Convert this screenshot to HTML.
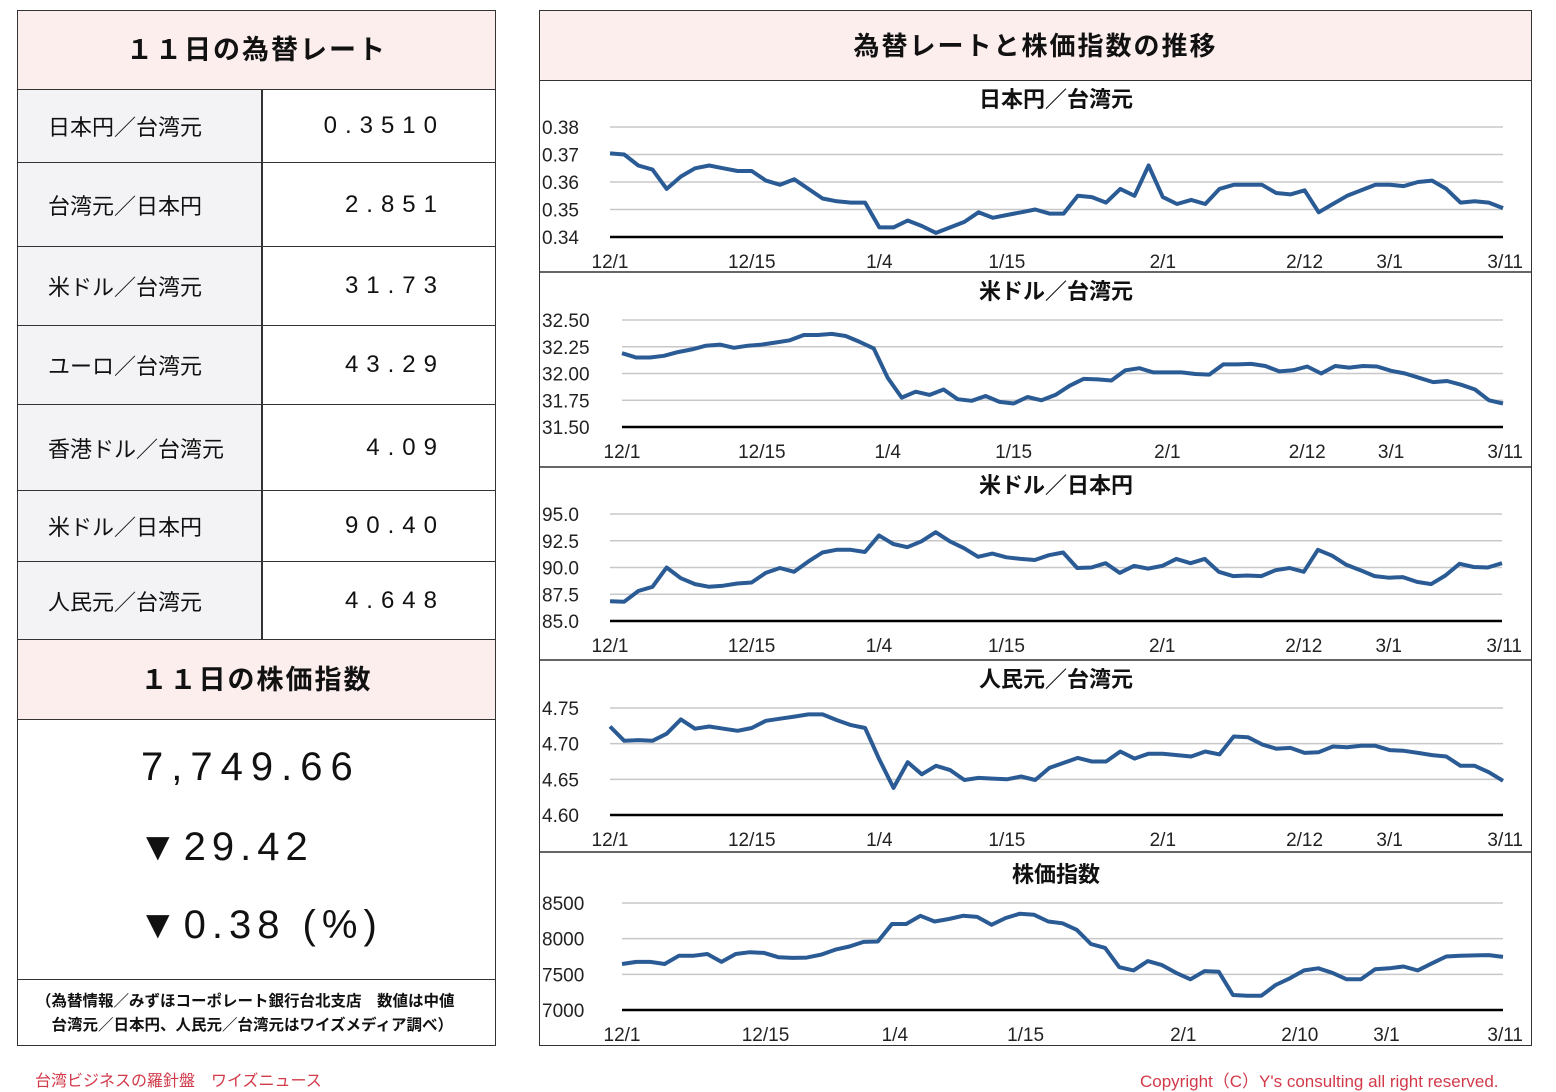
<!DOCTYPE html>
<html><head><meta charset="utf-8">
<style>
body{margin:0;width:1556px;height:1092px;background:#fff;font-family:"Liberation Sans","Noto Sans CJK JP",sans-serif;position:relative;overflow:hidden;color:#111}
.abs{position:absolute;box-sizing:border-box}
.hdr{background:#fdeeee;font-weight:bold;font-size:27px;text-align:center;letter-spacing:2px}
.lab{background:#f3f3f5;font-size:22px;padding-left:30px;display:flex;align-items:center;border-right:2px solid #333}
.val{font-size:24px;letter-spacing:8px;text-align:right;padding-right:50px;display:flex;align-items:center;justify-content:flex-end}
.row{border-bottom:1px solid #333}
.big{font-size:40px;letter-spacing:6px;left:138px}
</style></head><body>
<div class="abs" style="left:17px;top:10px;width:479px;height:1036px;border:1px solid #333"></div>
<div class="abs hdr row" style="left:18px;top:11px;width:477px;height:79px;line-height:79px">１１日の為替レート</div>

<div class="abs lab row" style="left:18px;top:90px;width:245px;height:73px">日本円／台湾元</div>
<div class="abs val row" style="left:263px;top:90px;width:232px;height:73px">0.3510</div>
<div class="abs lab row" style="left:18px;top:163px;width:245px;height:84px">台湾元／日本円</div>
<div class="abs val row" style="left:263px;top:163px;width:232px;height:84px">2.851</div>
<div class="abs lab row" style="left:18px;top:247px;width:245px;height:79px">米ドル／台湾元</div>
<div class="abs val row" style="left:263px;top:247px;width:232px;height:79px">31.73</div>
<div class="abs lab row" style="left:18px;top:326px;width:245px;height:79px">ユーロ／台湾元</div>
<div class="abs val row" style="left:263px;top:326px;width:232px;height:79px">43.29</div>
<div class="abs lab row" style="left:18px;top:405px;width:245px;height:86px">香港ドル／台湾元</div>
<div class="abs val row" style="left:263px;top:405px;width:232px;height:86px">4.09</div>
<div class="abs lab row" style="left:18px;top:491px;width:245px;height:71px">米ドル／日本円</div>
<div class="abs val row" style="left:263px;top:491px;width:232px;height:71px">90.40</div>
<div class="abs lab row" style="left:18px;top:562px;width:245px;height:78px">人民元／台湾元</div>
<div class="abs val row" style="left:263px;top:562px;width:232px;height:78px">4.648</div>

<div class="abs hdr row" style="left:18px;top:640px;width:477px;height:80px;line-height:80px">１１日の株価指数</div>
<div class="abs big" style="top:745px;left:141px;letter-spacing:8px">7,749.66</div>
<div class="abs big" style="top:825px">▼29.42</div>
<div class="abs big" style="top:903px">▼0.38 (%)</div>
<div class="abs" style="left:18px;top:979px;width:477px;height:66px;border-top:1px solid #333;font-size:15.5px;font-weight:bold;padding:10px 0 0 18px;line-height:24px">（為替情報／みずほコーポレート銀行台北支店　数値は中値<br>　台湾元／日本円、人民元／台湾元はワイズメディア調べ）</div>
<div class="abs" style="left:35px;top:1067px;font-size:16px;color:#d23a4a">台湾ビジネスの羅針盤　ワイズニュース</div>
<div class="abs" style="left:1140px;top:1067px;font-size:17px;color:#d23a4a">Copyright（C）Y's consulting all right reserved.</div>

<div class="abs" style="left:539px;top:10px;width:993px;height:1036px;border:1px solid #333"></div>
<div class="abs hdr" style="left:540px;top:11px;width:991px;height:70px;line-height:70px;font-size:26px;border-bottom:1px solid #333">為替レートと株価指数の推移</div>

<svg class="abs" style="left:0;top:0" width="1556" height="1092" id="charts"></svg>

<script>
const xLabelsA = ["12/1","12/15","1/4","1/15","2/1","2/12","3/1","3/11"];
const xLabelIdxA = [0,10,19,28,39,49,55,63];
const xLabelsB = ["12/1","12/15","1/4","1/15","2/1","2/10","3/1","3/11"];
const xLabelIdxB = [0,10.1,19.2,28.4,39.5,47.7,53.8,62];

const jpyTwdTicks = ["0.38","0.37","0.36","0.35","0.34"];
const jpyTwdTickVals = [0.38,0.37,0.36,0.35,0.34];
const jpyTwd = [0.3704,0.370,0.366,0.3645,0.3575,0.362,0.365,0.366,0.365,0.364,0.364,0.3605,0.359,0.361,0.3575,0.354,0.353,0.3525,0.3525,0.3435,0.3435,0.346,0.344,0.3415,0.3435,0.3455,0.349,0.347,0.348,0.349,0.350,0.3485,0.3485,0.355,0.3545,0.3525,0.3575,0.355,0.366,0.3545,0.352,0.3535,0.352,0.3575,0.359,0.359,0.359,0.356,0.3555,0.357,0.349,0.352,0.355,0.357,0.359,0.359,0.3585,0.360,0.3605,0.3575,0.3525,0.353,0.3525,0.3505];

const usdTwdTicks = ["32.50","32.25","32.00","31.75","31.50"];
const usdTwdTickVals = [32.5,32.25,32.0,31.75,31.5];
const usdTwd = [32.19,32.15,32.15,32.165,32.20,32.225,32.26,32.27,32.24,32.26,32.27,32.29,32.31,32.36,32.36,32.37,32.35,32.295,32.235,31.96,31.775,31.83,31.80,31.85,31.76,31.745,31.79,31.735,31.72,31.78,31.75,31.80,31.885,31.95,31.945,31.935,32.03,32.05,32.01,32.01,32.01,31.995,31.99,32.085,32.085,32.09,32.07,32.02,32.03,32.065,32.00,32.07,32.055,32.07,32.065,32.025,32.00,31.96,31.92,31.93,31.895,31.85,31.75,31.72];

const usdJpyTicks = ["95.0","92.5","90.0","87.5","85.0"];
const usdJpyTickVals = [95,92.5,90,87.5,85];
const usdJpy = [86.85,86.8,87.8,88.2,90.0,89.0,88.45,88.2,88.3,88.5,88.6,89.5,89.95,89.6,90.55,91.4,91.65,91.65,91.45,93.0,92.2,91.9,92.45,93.3,92.45,91.8,91.0,91.3,90.95,90.8,90.7,91.15,91.4,89.95,90.0,90.4,89.5,90.15,89.9,90.15,90.8,90.4,90.8,89.6,89.2,89.25,89.2,89.75,89.95,89.6,91.65,91.1,90.25,89.75,89.2,89.05,89.1,88.65,88.45,89.25,90.35,90.05,90.0,90.4];

const cnyTwdTicks = ["4.75","4.70","4.65","4.60"];
const cnyTwdTickVals = [4.75,4.70,4.65,4.60];
const cnyTwd = [4.724,4.704,4.705,4.704,4.714,4.734,4.721,4.724,4.721,4.718,4.722,4.732,4.735,4.738,4.741,4.741,4.733,4.726,4.722,4.678,4.638,4.674,4.657,4.669,4.663,4.649,4.652,4.651,4.650,4.654,4.649,4.666,4.673,4.680,4.675,4.675,4.689,4.679,4.686,4.686,4.684,4.682,4.689,4.685,4.710,4.709,4.699,4.693,4.694,4.687,4.688,4.696,4.695,4.697,4.697,4.691,4.690,4.687,4.684,4.682,4.669,4.669,4.660,4.648];

const stockTicks = ["8500","8000","7500","7000"];
const stockTickVals = [8500,8000,7500,7000];
const stock = [7645,7675,7675,7645,7760,7760,7785,7675,7785,7810,7800,7740,7730,7735,7775,7845,7890,7955,7960,8205,8205,8320,8240,8275,8320,8305,8195,8290,8350,8335,8240,8215,8125,7925,7870,7600,7555,7685,7630,7520,7430,7545,7535,7210,7200,7200,7350,7445,7555,7585,7520,7430,7430,7570,7585,7610,7555,7655,7750,7760,7765,7770,7745];

const NS="http://www.w3.org/2000/svg";
const svg=document.getElementById('charts');
function mk(tag,attrs){const e=document.createElementNS(NS,tag);for(const k in attrs)e.setAttribute(k,attrs[k]);svg.appendChild(e);return e;}

function drawChart(key,title,secTop,secBottom,titleY,left,right,yTop,yBot,tickVals,tickLabels,vals,xl,xi,xlY){
  const vmax=tickVals[0],vmin=tickVals[tickVals.length-1];
  const ys=v=>yBot-(v-vmin)/(vmax-vmin)*(yBot-yTop);
  const n=vals.length;
  const xs=i=>left+i/(n-1)*(right-left);
  if(secTop>82){
    const sep=mk('line',{x1:540,x2:1531,y1:secTop,y2:secTop,stroke:'#333','stroke-width':1.5});
    
    
  }
  const t=mk('text',{x:1056,y:titleY,'text-anchor':'middle','font-size':22,'font-weight':'bold',fill:'#111'});
  t.textContent=title;
  
  
  tickVals.forEach((v,i)=>{
    const y=ys(v);
    const g=mk('line',{x1:left,x2:right,y1:y,y2:y,stroke:i===tickVals.length-1?'#000':'#c8c8c8','stroke-width':i===tickVals.length-1?2.5:1.5});
    
    
    const tl=mk('text',{x:542,y:y+7,'font-size':19,fill:'#222'});
    tl.textContent=tickLabels[i];
    
    
  });
  xl.forEach((s,i)=>{
    const x=xs(xi[i]);
    const a=i===xl.length-1?'end':'middle';
    const tx=mk('text',{x:i===xl.length-1?Math.min(x+20,1524):x,y:xlY,'text-anchor':a,'font-size':19,fill:'#222'});
    tx.textContent=s;
    
    
  });
  const pts=vals.map((v,i)=>xs(i).toFixed(1)+','+ys(v).toFixed(1)).join(' ');
  const pl=mk('polyline',{points:pts,fill:'none',stroke:'#2b5b94','stroke-width':4,'stroke-linejoin':'round'});
  
  
}
drawChart('jpy-twd-chart','日本円／台湾元',81,272,107,610,1503,127,237,jpyTwdTickVals,jpyTwdTicks,jpyTwd,xLabelsA,xLabelIdxA,268);
drawChart('usd-twd-chart','米ドル／台湾元',272,467,299,622,1503,320,427,usdTwdTickVals,usdTwdTicks,usdTwd,xLabelsA,xLabelIdxA,458);
drawChart('usd-jpy-chart','米ドル／日本円',467,660,493,610,1502,514,621,usdJpyTickVals,usdJpyTicks,usdJpy,xLabelsA,xLabelIdxA,652);
drawChart('cny-twd-chart','人民元／台湾元',660,852,687,610,1503,708,815,cnyTwdTickVals,cnyTwdTicks,cnyTwd,xLabelsA,xLabelIdxA,846);
drawChart('stock-chart','株価指数',852,1045,882,622,1503,903,1010,stockTickVals,stockTicks,stock,xLabelsB,xLabelIdxB,1041);
</script>
</body></html>
